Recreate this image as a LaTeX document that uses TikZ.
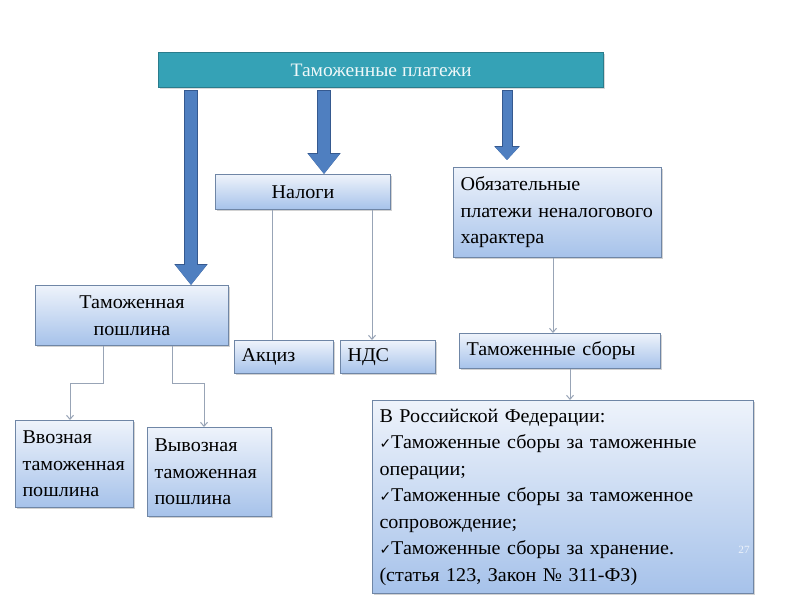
\documentclass[tikz,border=0pt]{standalone}
\usepackage{fontspec}
\setmainfont{Liberation Serif}
\newfontfamily\tnr[FakeStretch=1.03]{Liberation Serif}
\newfontfamily\symfont{DejaVu Sans}
\usetikzlibrary{arrows.meta,shadows}
\definecolor{barfill}{HTML}{35A2B6}
\definecolor{bardraw}{HTML}{2A7C8C}
\definecolor{boxtop}{HTML}{EEF3FB}
\definecolor{boxbot}{HTML}{A6C2EA}
\definecolor{boxdraw}{HTML}{6F86A6}
\definecolor{arrfill}{HTML}{4F7FC0}
\definecolor{arrdraw}{HTML}{35598F}
\definecolor{thin}{HTML}{98A4B6}
\newcommand{\ck}{{\symfont\fontsize{14}{14}\selectfont ✓}}
\tikzset{
  bx/.style={draw=boxdraw, line width=1pt, top color=boxtop, bottom color=boxbot,
    anchor=north west, inner xsep=7pt, inner ysep=0pt,
    font=\tnr\fontsize{19.5}{26.5}\selectfont, text=black,
    drop shadow={shadow xshift=1.5pt, shadow yshift=-1.5pt, opacity=0.35}},
  bxl/.style={bx, align=left},
  bxc/.style={bx, align=center},
  fat/.style={line width=12pt, draw=arrfill, -{Triangle[width=30pt,length=20pt]}},
  fatout/.style={line width=14pt, draw=arrdraw, -{Triangle[width=32pt,length=21pt]}},
  thinline/.style={draw=thin, line width=1pt},
  thinarr/.style={thinline, -{Straight Barb[width=7pt,length=4pt]}}
}
\begin{document}
\begin{tikzpicture}[x=1pt,y=-1pt]
\useasboundingbox[fill=white] (0,0) rectangle (794,595);

% title bar
\node[draw=bardraw, line width=1.2pt, fill=barfill, anchor=north west,
  minimum width=445pt, minimum height=35pt, text=white!92!barfill,
  font=\tnr\fontsize{19}{20}\selectfont,
  drop shadow={shadow xshift=1.5pt, shadow yshift=-1.5pt, opacity=0.3}]
  (tp) at (158,52) {Таможенные платежи};

% boxes
\node[bxc, minimum width=175pt, minimum height=35pt] (nal) at (215,174) {Налоги};
\node[bxl, minimum width=208pt, minimum height=90pt, text width=194pt] (obl) at (453,167)
  {Обязательные\\\mbox{платежи неналогового}\\характера};
\node[bxc, minimum width=193pt, minimum height=60pt] (tpo) at (35,285)
  {Таможенная\\пошлина};
\node[bxl, minimum width=99pt, minimum height=33pt, text width=85pt] (akc) at (234,340) {Акциз};
\node[bxl, minimum width=95pt, minimum height=33pt, text width=81pt] (nds) at (340,340) {НДС};
\node[bxl, minimum width=201pt, minimum height=35pt, text width=187pt] (sbo) at (459,333) {Таможенные сборы};
\node[bxl, minimum width=118pt, minimum height=87pt, text width=104pt] (vvo) at (15,420)
  {Ввозная\\\mbox{таможенная}\\пошлина};
\node[bxl, minimum width=124pt, minimum height=89pt, text width=110pt] (vyv) at (147,427)
  {Вывозная\\\mbox{таможенная}\\пошлина};
\node[bxl, minimum width=381pt, minimum height=193pt, text width=367pt] (big) at (372,400)
  {В Российской Федерации:\\
   \ck Таможенные сборы за таможенные\\
   операции;\\
   \ck Таможенные сборы за таможенное\\
   сопровождение;\\
   \ck Таможенные сборы за хранение.\\
   (статья 123, Закон № 311-ФЗ)};
\node[text=white!80!boxbot, font=\tnr\fontsize{11}{12}\selectfont] (pg) at (744,550) {27};

% thick arrows from the title bar
\coordinate (s1) at (191,91);
\coordinate (s2) at (324,91);
\coordinate (s3) at (507,91);
\coordinate (e3) at (507,160);
\draw[fatout, shorten <=-1pt] (s1) -- (s1 |- tpo.north);
\draw[fat] (s1) -- (s1 |- tpo.north);
\draw[fatout, shorten <=-1pt] (s2) -- (s2 |- nal.north);
\draw[fat] (s2) -- (s2 |- nal.north);
\draw[line width=11pt, draw=arrdraw, -{Triangle[width=25pt,length=14pt]}, shorten <=-1pt] (s3) -- (e3);
\draw[line width=9pt, draw=arrfill, -{Triangle[width=23pt,length=13pt]}] (s3) -- (e3);

% thin connectors
\draw[thinline] (nal.south -| 272,0) -- (akc.north -| 272,0);
\draw[thinarr] (nal.south -| 372,0) -- (nds.north -| 372,0);
\draw[thinarr] (obl.south -| 553,0) -- (sbo.north -| 553,0);
\draw[thinarr] (sbo.south -| 570,0) -- (big.north -| 570,0);
\coordinate (k1) at (103,383);
\coordinate (k2) at (172,383);
\draw[thinarr] (tpo.south -| k1) -- (k1) -- (70,383) -- (vvo.north -| 70,0);
\draw[thinarr] (tpo.south -| k2) -- (k2) -- (204,383) -- (vyv.north -| 204,0);
\end{tikzpicture}
\end{document}
